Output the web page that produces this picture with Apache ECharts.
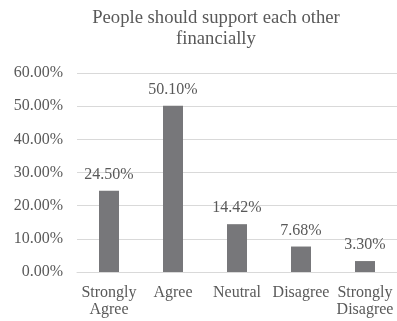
<!DOCTYPE html>
<html><head><meta charset="utf-8">
<script src="https://cdn.jsdelivr.net/npm/echarts@6/dist/echarts.min.js"></script>
<style>html,body{margin:0;padding:0;background:#fff;}#c{width:397px;height:321px;}</style>
</head><body><div id="c"></div>
<script>
var categories = ['Strongly\nAgree', 'Agree', 'Neutral', 'Disagree', 'Strongly\nDisagree'];
var values = [24.50, 50.10, 14.42, 7.68, 3.30];
var titleText = 'People should support each other\nfinancially';

var chart = echarts.init(document.getElementById('c'), null, {renderer: 'canvas'});
var font = 'Liberation Serif';
chart.setOption({
  animation: false,
  textStyle: {fontFamily: font},
  title: {
    text: titleText, left: 211, top: 3, textAlign: 'center',
    textStyle: {fontFamily: font, fontSize: 18.67, fontWeight: 'normal', color: '#595959', lineHeight: 21}
  },
  grid: {left: 77, right: -5, top: 73, bottom: 49, containLabel: false},
  xAxis: {
    type: 'category', data: categories,
    axisLine: {lineStyle: {color: '#d9d9d9'}},
    axisTick: {show: false},
    axisLabel: {fontFamily: font, fontSize: 16, color: '#595959', lineHeight: 17, margin: 12, interval: 0}
  },
  yAxis: {
    type: 'value', min: 0, max: 60, interval: 10,
    axisLine: {show: false}, axisTick: {show: false},
    splitLine: {lineStyle: {color: '#d9d9d9'}},
    axisLabel: {fontFamily: font, fontSize: 16, color: '#595959', margin: 14,
      formatter: function(v){ return v.toFixed(2) + '%'; }}
  },
  series: [{
    type: 'bar', data: values, barWidth: 20,
    itemStyle: {color: '#77777a'},
    label: {show: true, position: 'top', distance: 8, fontFamily: font, fontSize: 16, color: '#595959',
      formatter: function(p){ return p.value.toFixed(2) + '%'; }}
  }]
});
</script></body></html>
